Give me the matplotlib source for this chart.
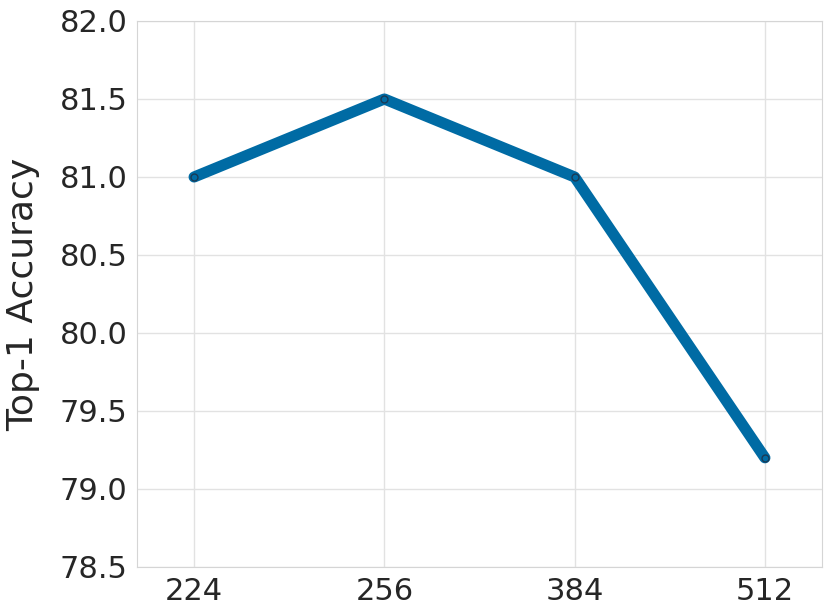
import matplotlib
matplotlib.use('Agg')
import matplotlib.pyplot as plt
import seaborn as sns

sns.set_style('whitegrid')
plt.rcParams['font.family'] = ['DejaVu Sans']

sizes = ['224', '256', '384', '512']
acc = [81.0, 81.5, 81.0, 79.2]

fig = plt.figure(figsize=(8.3, 6.12), dpi=100)
ax = fig.add_axes([137/830, 1-567/612, 685/830, 546/612])
x = list(range(len(sizes)))
ax.plot(x, acc, color='#006BA4', linewidth=8, marker='o', markersize=5,
        markerfacecolor='#006BA4', markeredgecolor='#1a3a55', markeredgewidth=1,
        solid_capstyle='round')
ax.set_xticks(x)
ax.set_xticklabels(sizes)
ax.set_xlim(-0.3, 3.3)
ax.set_ylim(78.5, 82.0)
ax.set_yticks([78.5, 79.0, 79.5, 80.0, 80.5, 81.0, 81.5, 82.0])
ax.tick_params(labelsize=22, colors='#262626')
ax.grid(color='#e2e2e2', linewidth=1)
ax.set_ylabel('Top-1 Accuracy', fontsize=26, color='#262626', labelpad=14)
for s in ax.spines.values():
    s.set_color('#d5d5d5')
fig.savefig('out.png', dpi=100)
